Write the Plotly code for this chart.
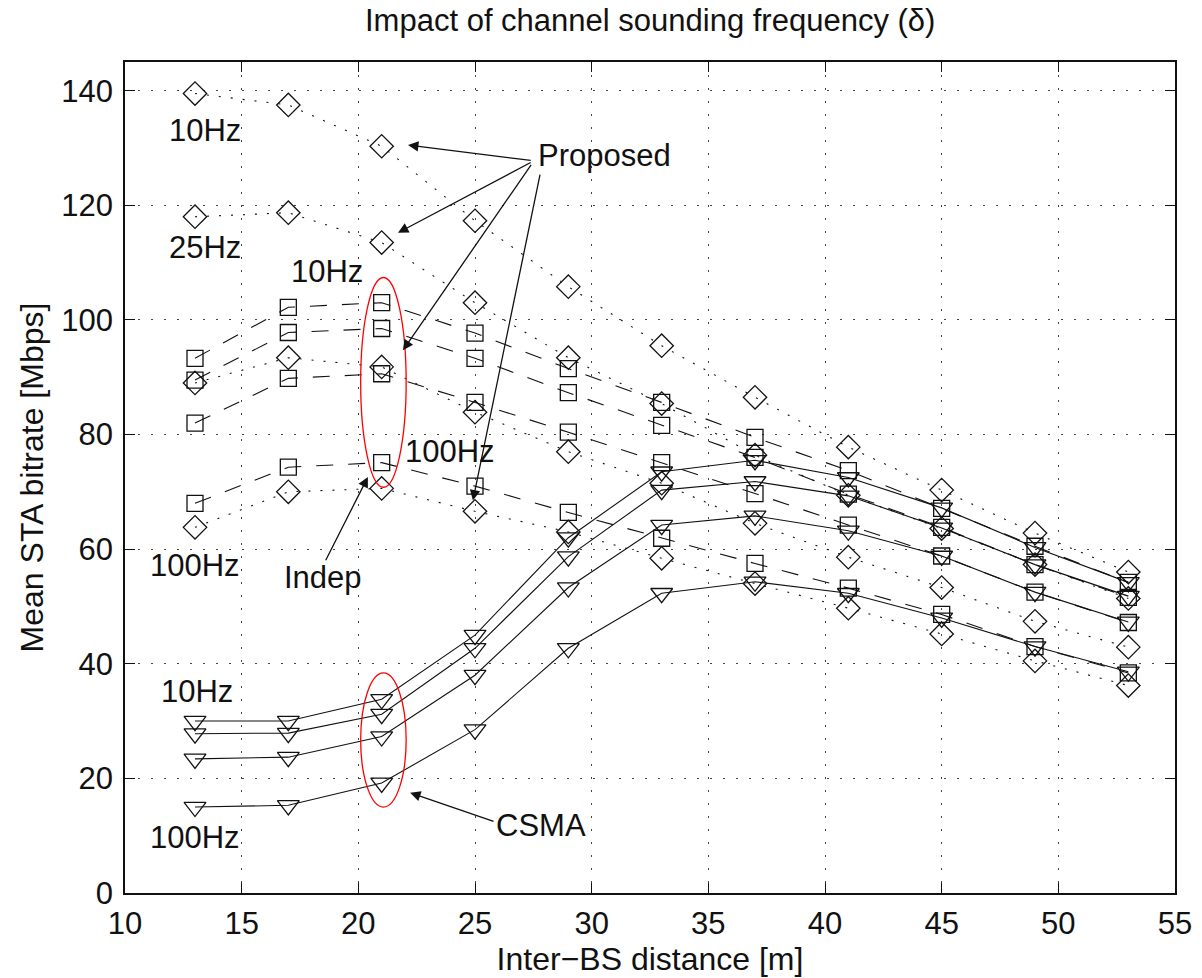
import plotly.graph_objects as go

# ---------------- data ----------------
distance = [13, 17, 21, 25, 29, 33, 37, 41, 45, 49, 53]

proposed_10hz = [139.5, 137.5, 130.3, 117.3, 105.8, 95.5, 86.5, 77.8, 70.3, 62.8, 56.0]
proposed_25hz = [118.0, 118.7, 113.5, 103.0, 93.4, 85.4, 76.4, 69.4, 63.6, 57.3, 51.4]
proposed_50hz = [89.0, 93.4, 91.8, 83.9, 77.0, 71.5, 64.5, 58.6, 53.3, 47.4, 42.9]
proposed_100hz = [63.8, 70.0, 70.6, 66.6, 63.0, 58.4, 54.0, 49.7, 45.2, 40.5, 36.2]

indep_10hz = [93.3, 102.2, 103.0, 97.7, 91.5, 85.6, 79.5, 73.7, 67.1, 60.5, 54.2]
indep_25hz = [89.5, 97.8, 98.5, 93.3, 87.3, 81.6, 76.0, 69.6, 63.8, 57.3, 51.6]
indep_50hz = [82.0, 89.8, 90.6, 85.6, 80.4, 75.1, 69.7, 64.2, 58.8, 52.5, 47.2]
indep_100hz = [68.0, 74.3, 75.1, 71.0, 66.4, 61.9, 57.5, 53.2, 48.6, 43.0, 38.4]

csma_10hz = [30.0, 30.0, 33.8, 45.0, 62.0, 73.5, 75.5, 72.5, 67.2, 60.3, 54.2]
csma_25hz = [27.8, 27.9, 31.2, 42.7, 58.7, 70.3, 71.8, 69.3, 63.7, 57.3, 51.8]
csma_50hz = [23.4, 23.7, 27.3, 38.0, 53.3, 64.2, 65.8, 63.2, 58.8, 52.5, 47.3]
csma_100hz = [15.0, 15.3, 19.2, 28.5, 42.7, 52.3, 54.3, 52.3, 48.0, 43.0, 38.6]

x_ticks = [10, 15, 20, 25, 30, 35, 40, 45, 50, 55]
y_ticks = [0, 20, 40, 60, 80, 100, 120, 140]

FONT = "Liberation Sans, Arial, Helvetica, sans-serif"
BLACK = "#111111"

fig = go.Figure()

def add_series(values, symbol, size, dash):
    fig.add_trace(go.Scatter(
        x=distance, y=values, mode="lines+markers",
        line=dict(color=BLACK, width=1.1, dash=dash),
        marker=dict(symbol=symbol, size=size, color=BLACK,
                    line=dict(color=BLACK, width=1.3)),
        showlegend=False, hoverinfo="x+y"))

for s in [proposed_10hz, proposed_25hz, proposed_50hz, proposed_100hz]:
    add_series(s, "diamond-open", 18, "2px,10px")
for s in [indep_10hz, indep_25hz, indep_50hz, indep_100hz]:
    add_series(s, "square-open", 16, "17px,15px")
for s in [csma_10hz, csma_25hz, csma_50hz, csma_100hz]:
    add_series(s, "triangle-down-open", 19, "solid")

# ---------------- text labels ----------------
labels = [
    ("10Hz", 13.43, 133.1),
    ("25Hz", 13.43, 112.7),
    ("10Hz", 18.66, 108.4),
    ("100Hz", 13.0, 57.2),
    ("100Hz", 23.93, 77.0),
    ("Indep", 18.49, 55.0),
    ("Proposed", 30.53, 128.6),
    ("10Hz", 13.09, 35.1),
    ("100Hz", 13.0, 9.6),
    ("CSMA", 27.83, 11.7),
]
annotations = []
for t, lx, ly in labels:
    annotations.append(dict(x=lx, y=ly, xref="x", yref="y", text=t, showarrow=False,
                            font=dict(family=FONT, size=31, color=BLACK),
                            xanchor="center", yanchor="middle"))

# arrows: (tip x, tip y, tail x, tail y) in data units
arrows = [
    (22.13, 130.5, 27.45, 127.8),
    (21.70, 115.2, 27.45, 127.6),
    (21.91, 94.7, 27.45, 127.3),
    (24.91, 68.5, 27.80, 125.6),
    (20.41, 72.6, 18.57, 57.8),
    (22.22, 17.5, 25.86, 12.4),
]
for tx, ty, ax_, ay_ in arrows:
    annotations.append(dict(x=tx, y=ty, ax=ax_, ay=ay_, xref="x", yref="y",
                            axref="x", ayref="y", text="", showarrow=True,
                            arrowhead=2, arrowsize=1.6, arrowwidth=1.3,
                            arrowcolor=BLACK, standoff=0, startstandoff=0))

annotations.append(dict(x=0.5, y=1.0, xref="paper", yref="paper", yanchor="bottom",
                        yshift=22, text="Impact of channel sounding frequency (δ)",
                        showarrow=False, font=dict(family=FONT, size=31, color=BLACK)))

shapes = [
    dict(type="circle", xref="x", yref="y", x0=20.1, x1=22.05, y0=70.8, y1=107.4,
         line=dict(color="red", width=1.3)),
    dict(type="circle", xref="x", yref="y", x0=20.1, x1=22.05, y0=15.0, y1=38.4,
         line=dict(color="red", width=1.3)),
]

axis_common = dict(
    showline=True, linecolor=BLACK, linewidth=1.5, mirror="ticks",
    ticks="inside", ticklen=10, tickwidth=1, tickcolor=BLACK,
    showgrid=True, gridcolor="#444444", gridwidth=1, griddash="2px,11px",
    zeroline=False, automargin=False,
    tickfont=dict(family=FONT, size=31, color=BLACK),
)

fig.update_layout(
    width=1202, height=978,
    margin=dict(l=125, r=27, t=62, b=85),
    paper_bgcolor="white", plot_bgcolor="white",
    xaxis=dict(range=[10, 55], tickvals=x_ticks, ticklabelstandoff=2,
               title=dict(text="Inter−BS distance [m]", standoff=3,
                          font=dict(family=FONT, size=32, color=BLACK)),
               **axis_common),
    yaxis=dict(range=[0, 145], tickvals=y_ticks, ticklabelstandoff=4,
               title=dict(text="Mean STA bitrate [Mbps]", standoff=8,
                          font=dict(family=FONT, size=32, color=BLACK)),
               **axis_common),
    annotations=annotations,
    shapes=shapes,
    showlegend=False,
)

fig.write_html("out.html")
